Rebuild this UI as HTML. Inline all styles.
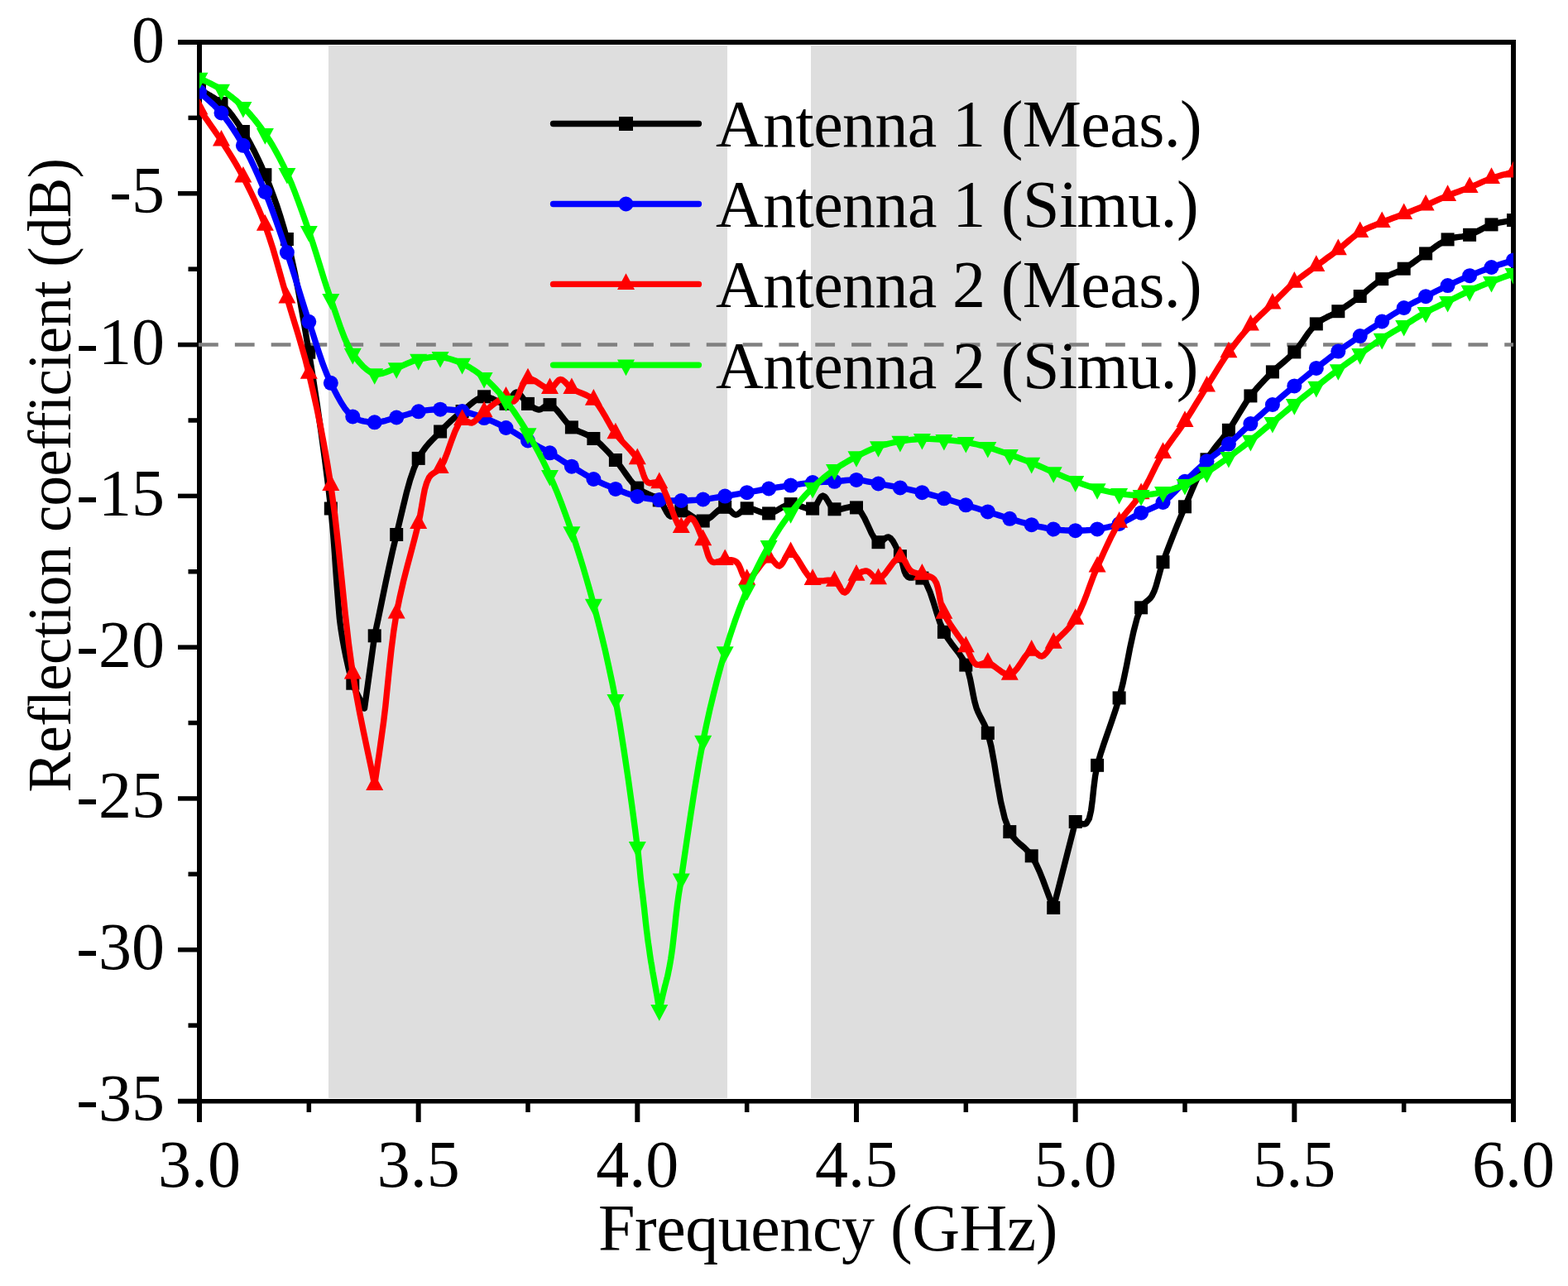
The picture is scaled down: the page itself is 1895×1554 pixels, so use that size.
<!DOCTYPE html><html><head><meta charset="utf-8"><style>html,body{margin:0;padding:0;background:#fff;overflow:hidden}svg{display:block}text{font-family:"Liberation Serif",serif}</style></head><body><svg width="1895" height="1554" viewBox="0 0 1895 1554">
<defs><clipPath id="pc"><rect x="241" y="51" width="1588" height="1279.5"/></clipPath></defs>
<rect x="0" y="0" width="1895" height="1554" fill="#fff"/>
<rect x="397" y="55" width="482" height="1272" fill="#dedede"/>
<rect x="980" y="55" width="321" height="1272" fill="#dedede"/>
<g fill="#000">
<rect x="215" y="48" width="1617" height="6"/>
<rect x="215" y="1328" width="1617" height="5.5"/>
<rect x="238" y="48" width="6" height="1308"/>
<rect x="1826" y="48" width="6" height="1308"/>
<rect x="215" y="48.25" width="26" height="5.5"/>
<rect x="215" y="231.04" width="26" height="5.5"/>
<rect x="215" y="413.82" width="26" height="5.5"/>
<rect x="215" y="596.61" width="26" height="5.5"/>
<rect x="215" y="779.39" width="26" height="5.5"/>
<rect x="215" y="962.18" width="26" height="5.5"/>
<rect x="215" y="1144.96" width="26" height="5.5"/>
<rect x="215" y="1327.75" width="26" height="5.5"/>
<rect x="227.5" y="139.64" width="13" height="5.5"/>
<rect x="227.5" y="322.43" width="13" height="5.5"/>
<rect x="227.5" y="505.21" width="13" height="5.5"/>
<rect x="227.5" y="688.00" width="13" height="5.5"/>
<rect x="227.5" y="870.79" width="13" height="5.5"/>
<rect x="227.5" y="1053.57" width="13" height="5.5"/>
<rect x="227.5" y="1236.36" width="13" height="5.5"/>
<rect x="238.00" y="1330" width="6" height="26"/>
<rect x="502.67" y="1330" width="6" height="26"/>
<rect x="767.33" y="1330" width="6" height="26"/>
<rect x="1032.00" y="1330" width="6" height="26"/>
<rect x="1296.67" y="1330" width="6" height="26"/>
<rect x="1561.33" y="1330" width="6" height="26"/>
<rect x="1826.00" y="1330" width="6" height="26"/>
<rect x="370.58" y="1330" width="5.5" height="14"/>
<rect x="635.25" y="1330" width="5.5" height="14"/>
<rect x="899.92" y="1330" width="5.5" height="14"/>
<rect x="1164.58" y="1330" width="5.5" height="14"/>
<rect x="1429.25" y="1330" width="5.5" height="14"/>
<rect x="1693.92" y="1330" width="5.5" height="14"/>
</g>
<g font-size="80" fill="#000">
<text x="199" y="74.5" text-anchor="end">0</text>
<text x="199" y="257.3" text-anchor="end">-5</text>
<text x="199" y="440.1" text-anchor="end">-10</text>
<text x="199" y="622.9" text-anchor="end">-15</text>
<text x="199" y="805.6" text-anchor="end">-20</text>
<text x="199" y="988.4" text-anchor="end">-25</text>
<text x="199" y="1171.2" text-anchor="end">-30</text>
<text x="199" y="1354.0" text-anchor="end">-35</text>
<text x="241.0" y="1434" text-anchor="middle">3.0</text>
<text x="505.7" y="1434" text-anchor="middle">3.5</text>
<text x="770.3" y="1434" text-anchor="middle">4.0</text>
<text x="1035.0" y="1434" text-anchor="middle">4.5</text>
<text x="1299.7" y="1434" text-anchor="middle">5.0</text>
<text x="1564.3" y="1434" text-anchor="middle">5.5</text>
<text x="1829.0" y="1434" text-anchor="middle">6.0</text>
<text x="723" y="1510.5" textLength="555.5" lengthAdjust="spacing">Frequency (GHz)</text>
</g>
<text transform="translate(85,957.5) rotate(-90)" font-size="73" textLength="766.5" lengthAdjust="spacing">Reflection coefficient (dB)</text>
<line x1="240" y1="416.57" x2="1829" y2="416.57" stroke="#808080" stroke-width="4.5" stroke-dasharray="23.8 20.04"/>
<g clip-path="url(#pc)">
<path d="M241.0,108.0 L245.5,110.7 L250.0,113.3 L254.5,115.8 L258.9,118.5 L263.3,121.5 L267.5,125.0 L272.2,129.7 L276.8,134.8 L281.2,140.4 L285.5,146.4 L289.8,152.6 L293.9,159.0 L298.7,166.8 L303.2,174.9 L307.7,183.5 L312.0,192.4 L316.3,201.6 L320.4,211.2 L325.2,222.9 L329.8,235.0 L334.3,247.5 L338.6,260.7 L342.8,274.5 L346.9,289.0 L351.8,309.2 L356.5,330.8 L360.9,353.4 L365.1,377.0 L369.2,401.1 L373.3,425.7 L378.2,456.0 L383.2,488.5 L388.0,521.8 L392.5,554.7 L396.5,586.0 L399.8,614.5 L401.7,633.6 L403.2,652.0 L404.5,669.5 L405.6,686.1 L406.7,701.5 L407.8,715.8 L408.5,724.5 L409.1,732.3 L409.7,739.6 L410.3,746.8 L411.2,754.1 L412.3,762.0 L414.0,772.3 L416.0,783.4 L418.3,794.8 L420.8,806.0 L423.4,816.4 L426.3,825.7 L428.4,831.5 L430.7,836.7 L433.2,841.7 L435.6,846.4 L438.1,851.1 L440.5,856.0 L452.7,768.3 L457.1,747.7 L461.4,726.9 L465.7,706.0 L470.1,685.4 L474.6,665.3 L479.2,646.0 L483.2,629.2 L487.2,612.3 L491.2,595.8 L495.5,580.2 L500.3,566.1 L505.7,553.9 L509.6,547.1 L513.9,541.2 L518.3,535.9 L522.9,531.0 L527.5,526.3 L532.1,521.5 L536.4,517.0 L540.8,512.7 L545.1,508.5 L549.6,504.5 L554.1,500.7 L558.6,497.0 L562.9,493.4 L567.2,489.7 L571.6,486.1 L576.0,483.0 L580.5,480.6 L585.1,479.3 L589.5,479.6 L594.2,481.4 L599.0,483.8 L603.6,486.1 L607.8,487.7 L611.5,487.8 L614.1,486.3 L616.3,483.6 L618.2,480.4 L620.1,477.3 L622.0,475.0 L624.0,474.0 L626.3,474.7 L628.5,476.7 L630.8,479.6 L633.2,482.7 L635.6,485.6 L638.0,487.9 L640.2,489.5 L642.4,491.1 L644.6,492.6 L646.8,493.8 L649.1,494.6 L651.3,495.0 L653.5,494.6 L655.6,493.3 L657.7,491.8 L659.9,490.3 L662.1,489.2 L664.5,489.1 L668.5,491.2 L672.7,495.3 L677.1,500.7 L681.6,506.5 L686.2,512.1 L690.9,516.4 L695.2,519.1 L699.6,521.3 L704.2,523.2 L708.7,525.2 L713.1,527.3 L717.4,530.0 L722.0,533.6 L726.5,537.6 L730.9,542.0 L735.3,546.5 L739.6,551.2 L743.9,556.0 L748.3,561.5 L752.6,567.4 L756.9,573.5 L761.2,579.5 L765.6,584.9 L770.3,589.6 L774.7,592.7 L779.3,595.2 L784.0,597.3 L788.7,599.4 L793.0,601.6 L796.8,604.4 L799.6,607.7 L802.0,611.7 L804.1,615.8 L806.2,619.6 L808.3,622.5 L810.7,624.0 L812.6,623.8 L814.6,622.7 L816.6,621.1 L818.7,619.3 L820.9,617.9 L823.3,617.3 L827.1,618.2 L831.4,620.5 L835.9,623.5 L840.6,626.5 L845.3,628.8 L849.7,629.5 L854.3,628.0 L859.0,624.9 L863.6,620.8 L868.1,616.9 L872.4,613.9 L876.2,612.8 L878.6,613.5 L880.8,615.2 L882.9,617.4 L884.9,619.5 L886.9,621.2 L889.0,622.0 L891.2,621.6 L893.3,620.3 L895.4,618.5 L897.7,616.7 L900.1,615.2 L902.7,614.3 L906.5,614.4 L910.8,615.6 L915.3,617.2 L920.0,618.9 L924.7,620.1 L929.1,620.4 L933.6,619.3 L938.0,617.3 L942.4,614.8 L946.7,612.3 L951.1,610.2 L955.6,609.1 L960.1,609.4 L964.8,610.7 L969.6,612.4 L974.2,614.1 L978.4,615.0 L982.1,614.6 L984.7,612.7 L986.9,609.7 L988.8,606.1 L990.6,602.6 L992.5,600.0 L994.5,599.0 L996.7,600.0 L998.7,602.6 L1000.9,606.1 L1003.1,609.9 L1005.6,613.2 L1008.5,615.3 L1012.4,615.9 L1016.7,615.2 L1021.4,613.9 L1026.2,612.8 L1030.8,612.4 L1035.0,613.4 L1040.1,618.2 L1044.8,626.1 L1049.2,635.5 L1053.3,644.5 L1057.4,651.7 L1061.5,655.2 L1063.6,655.1 L1065.8,653.9 L1067.9,652.1 L1070.0,650.4 L1072.0,649.2 L1074.0,649.0 L1076.6,650.7 L1079.1,653.9 L1081.5,658.2 L1083.8,663.0 L1085.9,667.8 L1087.9,672.2 L1089.6,676.5 L1090.8,681.3 L1091.9,686.1 L1093.1,690.5 L1094.8,694.3 L1097.0,697.0 L1099.4,698.0 L1102.2,698.0 L1105.3,697.6 L1108.5,697.2 L1111.6,697.3 L1114.4,698.6 L1119.4,704.9 L1123.8,714.9 L1128.0,727.2 L1132.0,740.4 L1136.2,753.0 L1140.9,763.8 L1145.2,771.1 L1149.9,777.7 L1154.7,783.9 L1159.4,790.1 L1163.7,796.6 L1167.3,803.6 L1170.3,811.8 L1172.5,820.6 L1174.3,829.8 L1176.0,838.8 L1177.8,847.4 L1180.0,855.3 L1182.1,860.7 L1184.4,865.3 L1186.7,869.8 L1189.1,874.4 L1191.5,879.6 L1193.8,885.8 L1197.9,902.0 L1201.7,922.8 L1205.4,945.9 L1209.5,968.8 L1214.4,989.3 L1220.3,1005.1 L1224.3,1011.4 L1228.7,1016.3 L1233.3,1020.4 L1238.0,1024.4 L1242.5,1028.8 L1246.7,1034.3 L1251.7,1043.1 L1256.3,1053.1 L1260.6,1063.9 L1264.7,1075.0 L1268.9,1086.1 L1273.2,1096.9 L1299.7,993.0 L1301.9,993.6 L1304.2,994.4 L1306.5,995.2 L1308.8,995.8 L1310.9,995.8 L1312.8,995.0 L1316.3,989.4 L1318.6,979.5 L1320.3,966.7 L1321.8,952.4 L1323.6,937.9 L1326.1,924.8 L1329.9,911.7 L1334.2,898.5 L1338.8,885.2 L1343.5,871.7 L1348.2,857.8 L1352.6,843.4 L1357.2,825.0 L1361.5,804.4 L1365.6,783.3 L1369.9,763.5 L1374.3,746.6 L1379.1,734.3 L1381.2,731.0 L1383.5,728.6 L1385.8,726.7 L1388.0,724.9 L1390.2,722.8 L1392.2,720.0 L1394.8,714.7 L1397.0,708.5 L1398.9,701.7 L1400.9,694.4 L1403.0,686.8 L1405.5,679.2 L1409.3,668.9 L1413.5,657.9 L1418.0,646.4 L1422.7,634.7 L1427.4,623.3 L1432.0,612.3 L1436.3,602.3 L1440.5,592.3 L1444.8,582.5 L1449.2,572.9 L1453.7,563.8 L1458.5,555.3 L1462.7,548.8 L1467.0,542.8 L1471.5,537.1 L1476.1,531.5 L1480.6,525.8 L1484.9,519.8 L1489.4,513.0 L1493.7,506.0 L1498.0,498.8 L1502.4,491.7 L1506.8,484.8 L1511.4,478.4 L1515.6,473.1 L1520.0,468.0 L1524.4,463.2 L1528.8,458.5 L1533.3,453.9 L1537.9,449.4 L1542.2,445.3 L1546.7,441.4 L1551.2,437.6 L1555.6,433.8 L1560.0,429.7 L1564.3,425.4 L1568.8,420.0 L1573.2,414.0 L1577.4,407.8 L1581.7,401.7 L1586.1,396.2 L1590.8,391.4 L1595.0,388.2 L1599.4,385.5 L1603.8,383.2 L1608.4,381.0 L1612.8,378.7 L1617.3,376.2 L1621.7,373.3 L1626.2,370.4 L1630.6,367.4 L1635.0,364.3 L1639.4,361.2 L1643.7,358.0 L1648.2,354.6 L1652.5,350.9 L1656.9,347.2 L1661.3,343.6 L1665.7,340.2 L1670.2,337.1 L1674.5,334.7 L1678.9,332.6 L1683.4,330.8 L1687.9,328.9 L1692.3,327.0 L1696.7,324.7 L1701.2,322.0 L1705.6,319.0 L1710.0,315.8 L1714.3,312.6 L1718.7,309.4 L1723.1,306.4 L1727.5,303.4 L1731.9,300.2 L1736.2,297.1 L1740.6,294.2 L1745.1,291.6 L1749.6,289.4 L1753.9,288.0 L1758.3,287.0 L1762.8,286.4 L1767.2,285.8 L1771.7,285.0 L1776.1,283.8 L1780.5,282.0 L1784.9,279.9 L1789.3,277.6 L1793.7,275.3 L1798.1,273.1 L1802.5,271.4 L1806.9,270.1 L1811.3,269.2 L1815.7,268.3 L1820.1,267.6 L1824.6,266.9 L1829.0,266.1" fill="none" stroke="#000000" stroke-width="7.4" stroke-linejoin="round" stroke-linecap="round"/>
<rect x="233.0" y="100.0" width="16" height="16" fill="#000000"/>
<rect x="259.5" y="117.0" width="16" height="16" fill="#000000"/>
<rect x="285.9" y="151.0" width="16" height="16" fill="#000000"/>
<rect x="312.4" y="203.2" width="16" height="16" fill="#000000"/>
<rect x="338.9" y="281.0" width="16" height="16" fill="#000000"/>
<rect x="365.3" y="417.7" width="16" height="16" fill="#000000"/>
<rect x="391.8" y="606.5" width="16" height="16" fill="#000000"/>
<rect x="418.3" y="817.7" width="16" height="16" fill="#000000"/>
<rect x="444.7" y="760.3" width="16" height="16" fill="#000000"/>
<rect x="471.2" y="638.0" width="16" height="16" fill="#000000"/>
<rect x="497.7" y="545.9" width="16" height="16" fill="#000000"/>
<rect x="524.1" y="513.5" width="16" height="16" fill="#000000"/>
<rect x="550.6" y="489.0" width="16" height="16" fill="#000000"/>
<rect x="577.1" y="471.3" width="16" height="16" fill="#000000"/>
<rect x="603.5" y="479.8" width="16" height="16" fill="#000000"/>
<rect x="630.0" y="479.9" width="16" height="16" fill="#000000"/>
<rect x="656.5" y="481.1" width="16" height="16" fill="#000000"/>
<rect x="682.9" y="508.4" width="16" height="16" fill="#000000"/>
<rect x="709.4" y="522.0" width="16" height="16" fill="#000000"/>
<rect x="735.9" y="548.0" width="16" height="16" fill="#000000"/>
<rect x="762.3" y="581.6" width="16" height="16" fill="#000000"/>
<rect x="788.8" y="596.4" width="16" height="16" fill="#000000"/>
<rect x="815.3" y="609.3" width="16" height="16" fill="#000000"/>
<rect x="841.7" y="621.5" width="16" height="16" fill="#000000"/>
<rect x="868.2" y="604.8" width="16" height="16" fill="#000000"/>
<rect x="894.7" y="606.3" width="16" height="16" fill="#000000"/>
<rect x="921.1" y="612.4" width="16" height="16" fill="#000000"/>
<rect x="947.6" y="601.1" width="16" height="16" fill="#000000"/>
<rect x="974.1" y="606.6" width="16" height="16" fill="#000000"/>
<rect x="1000.5" y="607.3" width="16" height="16" fill="#000000"/>
<rect x="1027.0" y="605.4" width="16" height="16" fill="#000000"/>
<rect x="1053.5" y="647.2" width="16" height="16" fill="#000000"/>
<rect x="1079.9" y="664.2" width="16" height="16" fill="#000000"/>
<rect x="1106.4" y="690.6" width="16" height="16" fill="#000000"/>
<rect x="1132.9" y="755.8" width="16" height="16" fill="#000000"/>
<rect x="1159.3" y="795.6" width="16" height="16" fill="#000000"/>
<rect x="1185.8" y="877.8" width="16" height="16" fill="#000000"/>
<rect x="1212.3" y="997.1" width="16" height="16" fill="#000000"/>
<rect x="1238.7" y="1026.3" width="16" height="16" fill="#000000"/>
<rect x="1265.2" y="1088.9" width="16" height="16" fill="#000000"/>
<rect x="1291.7" y="985.0" width="16" height="16" fill="#000000"/>
<rect x="1318.1" y="916.8" width="16" height="16" fill="#000000"/>
<rect x="1344.6" y="835.4" width="16" height="16" fill="#000000"/>
<rect x="1371.1" y="726.3" width="16" height="16" fill="#000000"/>
<rect x="1397.5" y="671.2" width="16" height="16" fill="#000000"/>
<rect x="1424.0" y="604.3" width="16" height="16" fill="#000000"/>
<rect x="1450.5" y="547.3" width="16" height="16" fill="#000000"/>
<rect x="1476.9" y="511.8" width="16" height="16" fill="#000000"/>
<rect x="1503.4" y="470.4" width="16" height="16" fill="#000000"/>
<rect x="1529.9" y="441.4" width="16" height="16" fill="#000000"/>
<rect x="1556.3" y="417.4" width="16" height="16" fill="#000000"/>
<rect x="1582.8" y="383.4" width="16" height="16" fill="#000000"/>
<rect x="1609.3" y="368.2" width="16" height="16" fill="#000000"/>
<rect x="1635.7" y="350.0" width="16" height="16" fill="#000000"/>
<rect x="1662.2" y="329.1" width="16" height="16" fill="#000000"/>
<rect x="1688.7" y="316.7" width="16" height="16" fill="#000000"/>
<rect x="1715.1" y="298.4" width="16" height="16" fill="#000000"/>
<rect x="1741.6" y="281.4" width="16" height="16" fill="#000000"/>
<rect x="1768.1" y="275.8" width="16" height="16" fill="#000000"/>
<rect x="1794.5" y="263.4" width="16" height="16" fill="#000000"/>
<rect x="1821.0" y="258.1" width="16" height="16" fill="#000000"/>
<path d="M241.0,111.0 L245.4,115.2 L249.9,119.2 L254.4,123.2 L258.9,127.4 L263.2,131.8 L267.5,136.5 L272.1,142.3 L276.7,148.4 L281.1,154.9 L285.5,161.6 L289.7,168.6 L293.9,175.8 L298.6,184.4 L303.2,193.3 L307.6,202.6 L311.9,212.2 L316.2,222.0 L320.4,232.0 L325.0,243.5 L329.5,255.4 L333.9,267.5 L338.3,279.9 L342.6,292.5 L346.9,305.1 L351.4,318.8 L355.8,332.7 L360.1,346.9 L364.5,361.1 L368.9,375.1 L373.3,388.8 L377.6,401.7 L381.8,414.8 L386.0,427.7 L390.3,440.2 L394.9,452.0 L399.8,462.8 L403.8,470.9 L407.9,478.8 L412.1,486.3 L416.5,493.1 L421.2,498.9 L426.3,503.4 L430.3,505.9 L434.7,507.7 L439.1,508.9 L443.7,509.7 L448.2,510.1 L452.7,510.3 L457.1,510.1 L461.6,509.4 L466.0,508.3 L470.4,507.0 L474.8,505.7 L479.2,504.5 L483.6,503.3 L488.0,502.0 L492.4,500.7 L496.8,499.4 L501.2,498.2 L505.7,497.3 L510.1,496.6 L514.5,495.9 L518.9,495.4 L523.3,495.0 L527.7,494.8 L532.1,494.7 L536.5,494.7 L541.0,494.9 L545.4,495.2 L549.8,495.6 L554.2,496.2 L558.6,497.0 L563.1,498.0 L567.5,499.1 L571.9,500.5 L576.3,501.9 L580.7,503.5 L585.1,505.1 L589.5,506.8 L594.0,508.7 L598.4,510.6 L602.8,512.7 L607.2,514.8 L611.5,517.0 L616.0,519.4 L620.4,521.9 L624.8,524.6 L629.2,527.3 L633.6,529.9 L638.0,532.5 L642.4,535.0 L646.8,537.4 L651.2,539.9 L655.7,542.3 L660.1,544.8 L664.5,547.3 L668.9,550.0 L673.3,552.7 L677.7,555.5 L682.1,558.3 L686.5,561.0 L690.9,563.7 L695.3,566.3 L699.7,569.0 L704.1,571.6 L708.5,574.2 L712.9,576.6 L717.4,579.0 L721.8,581.2 L726.2,583.3 L730.6,585.3 L735.0,587.2 L739.4,589.1 L743.9,590.9 L748.2,592.6 L752.6,594.3 L757.0,595.9 L761.5,597.4 L765.9,598.7 L770.3,599.9 L774.7,600.9 L779.1,601.8 L783.5,602.5 L787.9,603.1 L792.4,603.6 L796.8,604.1 L801.2,604.5 L805.6,604.7 L810.0,604.9 L814.4,605.0 L818.9,605.0 L823.3,605.0 L827.7,604.9 L832.1,604.8 L836.5,604.5 L840.9,604.3 L845.3,603.9 L849.7,603.5 L854.2,603.0 L858.6,602.4 L863.0,601.7 L867.4,601.0 L871.8,600.3 L876.2,599.6 L880.6,598.9 L885.0,598.2 L889.4,597.4 L893.8,596.7 L898.3,596.0 L902.7,595.2 L907.1,594.4 L911.5,593.6 L915.9,592.8 L920.3,592.0 L924.7,591.2 L929.1,590.5 L933.5,589.8 L937.9,589.1 L942.4,588.5 L946.8,587.8 L951.2,587.2 L955.6,586.6 L960.0,586.0 L964.4,585.3 L968.8,584.7 L973.2,584.1 L977.6,583.6 L982.1,583.1 L986.5,582.8 L990.9,582.5 L995.3,582.4 L999.7,582.2 L1004.1,582.0 L1008.5,581.8 L1012.9,581.4 L1017.4,581.0 L1021.8,580.5 L1026.2,580.1 L1030.6,579.9 L1035.0,579.9 L1039.4,580.3 L1043.8,580.9 L1048.2,581.8 L1052.7,582.7 L1057.1,583.6 L1061.5,584.5 L1065.9,585.3 L1070.3,586.1 L1074.7,586.9 L1079.1,587.7 L1083.5,588.5 L1087.9,589.4 L1092.4,590.3 L1096.8,591.2 L1101.2,592.2 L1105.6,593.1 L1110.0,594.2 L1114.4,595.2 L1118.8,596.3 L1123.2,597.4 L1127.7,598.6 L1132.1,599.8 L1136.5,601.1 L1140.9,602.3 L1145.3,603.6 L1149.7,604.9 L1154.1,606.2 L1158.5,607.6 L1162.9,609.0 L1167.3,610.3 L1171.7,611.6 L1176.2,613.0 L1180.6,614.3 L1185.0,615.7 L1189.4,617.0 L1193.8,618.4 L1198.2,619.8 L1202.6,621.2 L1207.0,622.6 L1211.4,624.1 L1215.8,625.5 L1220.3,626.8 L1224.7,628.1 L1229.1,629.4 L1233.5,630.7 L1237.9,631.9 L1242.3,633.1 L1246.7,634.2 L1251.1,635.2 L1255.5,636.3 L1259.9,637.2 L1264.4,638.1 L1268.8,638.8 L1273.2,639.5 L1277.6,640.0 L1282.0,640.5 L1286.4,640.8 L1290.8,641.0 L1295.3,641.2 L1299.7,641.2 L1304.1,641.2 L1308.5,641.0 L1312.9,640.8 L1317.3,640.5 L1321.7,640.0 L1326.1,639.4 L1330.6,638.7 L1335.0,637.8 L1339.5,636.9 L1343.9,635.8 L1348.3,634.5 L1352.6,633.0 L1357.1,631.2 L1361.5,629.0 L1365.9,626.7 L1370.3,624.3 L1374.7,622.0 L1379.1,619.7 L1383.5,617.7 L1388.0,615.8 L1392.5,613.9 L1396.9,611.9 L1401.3,609.7 L1405.5,607.0 L1410.1,603.5 L1414.6,599.4 L1419.0,595.1 L1423.3,590.6 L1427.6,586.1 L1432.0,581.8 L1436.4,577.6 L1440.8,573.5 L1445.2,569.3 L1449.6,565.2 L1454.0,561.2 L1458.5,557.3 L1462.8,553.7 L1467.3,550.3 L1471.7,547.0 L1476.1,543.6 L1480.6,540.2 L1484.9,536.6 L1489.4,532.7 L1493.8,528.6 L1498.2,524.5 L1502.6,520.3 L1507.0,516.2 L1511.4,512.1 L1515.8,508.2 L1520.2,504.3 L1524.6,500.5 L1529.0,496.6 L1533.4,492.8 L1537.9,489.0 L1542.3,485.2 L1546.7,481.4 L1551.1,477.6 L1555.5,473.9 L1559.9,470.1 L1564.3,466.4 L1568.7,462.8 L1573.1,459.1 L1577.5,455.5 L1581.9,452.0 L1586.4,448.4 L1590.8,444.9 L1595.2,441.4 L1599.6,438.0 L1604.0,434.6 L1608.4,431.2 L1612.8,427.9 L1617.3,424.6 L1621.7,421.4 L1626.0,418.3 L1630.5,415.2 L1634.9,412.2 L1639.3,409.1 L1643.7,406.1 L1648.1,403.1 L1652.5,400.1 L1656.9,397.2 L1661.4,394.3 L1665.8,391.4 L1670.2,388.5 L1674.6,385.7 L1679.0,382.8 L1683.4,380.0 L1687.8,377.3 L1692.2,374.6 L1696.7,372.0 L1701.0,369.6 L1705.4,367.2 L1709.9,364.9 L1714.3,362.7 L1718.7,360.4 L1723.1,358.2 L1727.5,356.0 L1731.9,353.7 L1736.3,351.5 L1740.8,349.4 L1745.2,347.2 L1749.6,345.1 L1754.0,343.0 L1758.4,341.0 L1762.8,339.0 L1767.2,337.0 L1771.6,335.1 L1776.1,333.2 L1780.5,331.4 L1784.9,329.6 L1789.3,327.9 L1793.7,326.2 L1798.1,324.6 L1802.5,323.0 L1806.9,321.5 L1811.3,320.0 L1815.8,318.6 L1820.2,317.2 L1824.6,315.8 L1829.0,314.4" fill="none" stroke="#0000ff" stroke-width="7.4" stroke-linejoin="round" stroke-linecap="round"/>
<circle cx="241.0" cy="111.0" r="9" fill="#0000ff"/>
<circle cx="267.5" cy="136.5" r="9" fill="#0000ff"/>
<circle cx="293.9" cy="175.8" r="9" fill="#0000ff"/>
<circle cx="320.4" cy="232.0" r="9" fill="#0000ff"/>
<circle cx="346.9" cy="305.1" r="9" fill="#0000ff"/>
<circle cx="373.3" cy="388.8" r="9" fill="#0000ff"/>
<circle cx="399.8" cy="462.8" r="9" fill="#0000ff"/>
<circle cx="426.3" cy="503.4" r="9" fill="#0000ff"/>
<circle cx="452.7" cy="510.3" r="9" fill="#0000ff"/>
<circle cx="479.2" cy="504.5" r="9" fill="#0000ff"/>
<circle cx="505.7" cy="497.3" r="9" fill="#0000ff"/>
<circle cx="532.1" cy="494.7" r="9" fill="#0000ff"/>
<circle cx="558.6" cy="497.0" r="9" fill="#0000ff"/>
<circle cx="585.1" cy="505.1" r="9" fill="#0000ff"/>
<circle cx="611.5" cy="517.0" r="9" fill="#0000ff"/>
<circle cx="638.0" cy="532.5" r="9" fill="#0000ff"/>
<circle cx="664.5" cy="547.3" r="9" fill="#0000ff"/>
<circle cx="690.9" cy="563.7" r="9" fill="#0000ff"/>
<circle cx="717.4" cy="579.0" r="9" fill="#0000ff"/>
<circle cx="743.9" cy="590.9" r="9" fill="#0000ff"/>
<circle cx="770.3" cy="599.9" r="9" fill="#0000ff"/>
<circle cx="796.8" cy="604.1" r="9" fill="#0000ff"/>
<circle cx="823.3" cy="605.0" r="9" fill="#0000ff"/>
<circle cx="849.7" cy="603.5" r="9" fill="#0000ff"/>
<circle cx="876.2" cy="599.6" r="9" fill="#0000ff"/>
<circle cx="902.7" cy="595.2" r="9" fill="#0000ff"/>
<circle cx="929.1" cy="590.5" r="9" fill="#0000ff"/>
<circle cx="955.6" cy="586.6" r="9" fill="#0000ff"/>
<circle cx="982.1" cy="583.1" r="9" fill="#0000ff"/>
<circle cx="1008.5" cy="581.8" r="9" fill="#0000ff"/>
<circle cx="1035.0" cy="579.9" r="9" fill="#0000ff"/>
<circle cx="1061.5" cy="584.5" r="9" fill="#0000ff"/>
<circle cx="1087.9" cy="589.4" r="9" fill="#0000ff"/>
<circle cx="1114.4" cy="595.2" r="9" fill="#0000ff"/>
<circle cx="1140.9" cy="602.3" r="9" fill="#0000ff"/>
<circle cx="1167.3" cy="610.3" r="9" fill="#0000ff"/>
<circle cx="1193.8" cy="618.4" r="9" fill="#0000ff"/>
<circle cx="1220.3" cy="626.8" r="9" fill="#0000ff"/>
<circle cx="1246.7" cy="634.2" r="9" fill="#0000ff"/>
<circle cx="1273.2" cy="639.5" r="9" fill="#0000ff"/>
<circle cx="1299.7" cy="641.2" r="9" fill="#0000ff"/>
<circle cx="1326.1" cy="639.4" r="9" fill="#0000ff"/>
<circle cx="1352.6" cy="633.0" r="9" fill="#0000ff"/>
<circle cx="1379.1" cy="619.7" r="9" fill="#0000ff"/>
<circle cx="1405.5" cy="607.0" r="9" fill="#0000ff"/>
<circle cx="1432.0" cy="581.8" r="9" fill="#0000ff"/>
<circle cx="1458.5" cy="557.3" r="9" fill="#0000ff"/>
<circle cx="1484.9" cy="536.6" r="9" fill="#0000ff"/>
<circle cx="1511.4" cy="512.1" r="9" fill="#0000ff"/>
<circle cx="1537.9" cy="489.0" r="9" fill="#0000ff"/>
<circle cx="1564.3" cy="466.4" r="9" fill="#0000ff"/>
<circle cx="1590.8" cy="444.9" r="9" fill="#0000ff"/>
<circle cx="1617.3" cy="424.6" r="9" fill="#0000ff"/>
<circle cx="1643.7" cy="406.1" r="9" fill="#0000ff"/>
<circle cx="1670.2" cy="388.5" r="9" fill="#0000ff"/>
<circle cx="1696.7" cy="372.0" r="9" fill="#0000ff"/>
<circle cx="1723.1" cy="358.2" r="9" fill="#0000ff"/>
<circle cx="1749.6" cy="345.1" r="9" fill="#0000ff"/>
<circle cx="1776.1" cy="333.2" r="9" fill="#0000ff"/>
<circle cx="1802.5" cy="323.0" r="9" fill="#0000ff"/>
<circle cx="1829.0" cy="314.4" r="9" fill="#0000ff"/>
<path d="M241.0,132.0 L245.4,138.3 L249.9,144.5 L254.3,150.8 L258.7,157.1 L263.1,163.5 L267.5,170.0 L272.0,177.0 L276.5,184.1 L281.0,191.3 L285.4,198.6 L289.7,206.2 L293.9,214.0 L298.6,223.0 L303.1,232.2 L307.6,241.6 L312.0,251.4 L316.3,261.6 L320.4,272.2 L325.1,285.7 L329.7,299.9 L334.0,314.8 L338.3,329.9 L342.5,345.0 L346.9,360.0 L351.4,374.9 L355.9,389.6 L360.4,404.3 L364.8,419.4 L369.2,435.0 L373.3,451.3 L378.1,471.8 L382.8,493.0 L387.3,514.9 L391.6,537.7 L395.8,561.5 L399.8,586.4 L404.6,621.5 L408.9,660.0 L413.0,700.2 L417.1,740.3 L421.5,778.8 L426.3,813.9 L430.4,838.4 L434.7,861.4 L439.2,883.4 L443.7,904.9 L448.3,926.4 L452.7,948.4 L454.5,936.1 L456.3,924.0 L458.1,912.0 L459.8,899.7 L461.6,886.8 L463.5,873.0 L465.9,853.0 L468.1,831.2 L470.4,808.4 L472.9,785.3 L475.8,762.6 L479.2,741.0 L483.1,721.8 L487.5,702.6 L492.3,683.8 L497.2,665.6 L501.7,648.4 L505.7,632.5 L507.9,621.7 L509.8,611.0 L511.5,600.8 L513.3,591.5 L515.6,583.5 L518.5,577.0 L520.5,574.4 L522.7,572.6 L525.0,571.2 L527.4,569.7 L529.8,567.9 L532.1,565.4 L536.5,557.4 L540.9,546.1 L545.3,533.6 L549.8,521.6 L554.2,512.3 L558.6,507.4 L560.5,507.1 L562.4,507.8 L564.3,508.9 L566.2,510.0 L568.1,510.9 L570.0,511.0 L572.4,510.0 L574.8,508.1 L577.2,505.7 L579.6,503.0 L582.2,500.3 L585.1,497.8 L589.1,494.5 L593.7,490.7 L598.6,486.9 L603.4,483.5 L607.8,481.0 L611.5,480.0 L613.4,480.4 L615.0,481.4 L616.5,482.7 L618.0,484.0 L619.5,484.9 L621.0,485.0 L623.7,482.6 L626.2,477.8 L628.8,471.7 L631.5,465.5 L634.5,460.5 L638.0,457.8 L642.0,458.0 L646.5,460.1 L651.3,463.3 L656.1,466.5 L660.6,468.9 L664.5,469.6 L667.0,468.5 L669.3,466.4 L671.4,463.8 L673.4,461.2 L675.4,459.3 L677.5,458.5 L679.7,459.1 L681.7,460.6 L683.8,462.7 L686.0,465.1 L688.3,467.5 L690.9,469.6 L694.8,471.7 L699.2,473.6 L703.9,475.5 L708.6,477.5 L713.2,480.0 L717.4,483.2 L722.3,488.5 L726.7,495.1 L731.0,502.3 L735.2,509.8 L739.4,517.1 L743.9,523.8 L748.3,529.3 L753.0,534.5 L757.8,539.5 L762.4,544.5 L766.6,549.5 L770.3,554.7 L772.9,559.7 L774.9,565.3 L776.7,570.8 L778.4,575.9 L780.4,580.2 L783.0,583.0 L785.1,583.8 L787.3,583.7 L789.7,583.2 L792.1,582.8 L794.5,582.8 L796.8,583.7 L801.5,589.7 L806.0,600.1 L810.6,612.4 L815.0,624.3 L819.2,633.5 L823.3,637.5 L825.3,636.9 L827.3,634.7 L829.3,631.8 L831.2,628.9 L833.1,626.7 L835.0,626.0 L837.6,627.6 L840.1,631.3 L842.7,636.3 L845.1,642.0 L847.5,647.7 L849.7,652.7 L851.6,657.5 L853.2,662.7 L854.8,668.0 L856.4,672.7 L858.3,676.6 L860.8,679.0 L863.0,679.6 L865.5,679.4 L868.2,678.6 L870.9,677.6 L873.6,676.8 L876.2,676.5 L878.6,676.5 L881.0,676.6 L883.4,676.7 L885.7,677.1 L887.9,677.9 L890.0,679.0 L892.4,681.8 L894.4,686.0 L896.2,690.8 L898.1,695.4 L900.2,698.8 L902.7,700.4 L906.5,698.8 L910.9,694.0 L915.7,687.7 L920.5,681.2 L925.1,676.2 L929.1,674.0 L931.5,674.7 L933.7,676.6 L935.7,679.1 L937.8,681.5 L939.8,683.4 L941.8,684.0 L944.1,682.6 L946.3,679.5 L948.5,675.5 L950.7,671.6 L953.1,668.7 L955.6,667.5 L959.4,669.6 L963.5,674.9 L967.8,682.0 L972.4,689.5 L977.1,696.1 L982.1,700.4 L986.3,701.8 L991.0,702.0 L995.8,701.7 L1000.5,701.3 L1004.8,701.3 L1008.5,702.3 L1011.1,704.3 L1013.4,707.1 L1015.3,710.3 L1017.2,713.2 L1019.0,715.3 L1021.0,716.0 L1023.3,714.6 L1025.6,711.4 L1027.8,707.1 L1030.1,702.4 L1032.5,698.2 L1035.0,695.2 L1036.9,693.7 L1039.0,692.4 L1041.0,691.3 L1043.1,690.5 L1045.2,690.0 L1047.3,690.0 L1049.6,690.9 L1051.9,692.8 L1054.2,695.2 L1056.5,697.5 L1058.9,699.2 L1061.5,699.7 L1065.6,697.4 L1070.2,692.4 L1074.9,686.0 L1079.6,679.6 L1084.0,674.9 L1087.9,673.1 L1090.4,674.2 L1092.6,676.9 L1094.6,680.4 L1096.6,684.1 L1098.7,687.6 L1101.0,690.0 L1103.1,691.2 L1105.3,692.0 L1107.5,692.6 L1109.8,693.0 L1112.1,693.5 L1114.4,694.2 L1116.9,694.9 L1119.4,695.5 L1122.0,696.1 L1124.5,696.9 L1126.9,698.2 L1129.0,700.0 L1131.7,704.6 L1133.6,710.9 L1135.1,718.3 L1136.5,726.2 L1138.3,734.0 L1140.9,741.2 L1144.6,748.3 L1149.0,755.4 L1153.8,762.4 L1158.7,769.3 L1163.3,775.7 L1167.3,781.7 L1169.7,785.9 L1171.7,790.3 L1173.6,794.5 L1175.5,798.2 L1177.6,801.1 L1180.0,803.0 L1182.0,803.4 L1184.2,803.1 L1186.5,802.4 L1188.8,801.5 L1191.3,801.0 L1193.8,801.0 L1197.8,802.6 L1202.2,805.6 L1206.8,809.1 L1211.4,812.4 L1215.9,814.7 L1220.3,815.2 L1225.0,812.6 L1229.7,807.2 L1234.2,800.6 L1238.6,793.9 L1242.8,788.7 L1246.7,786.2 L1248.9,786.5 L1251.0,787.8 L1253.1,789.6 L1255.1,791.4 L1257.0,792.7 L1259.0,793.0 L1261.4,792.0 L1263.6,789.9 L1265.9,787.1 L1268.2,783.8 L1270.6,780.4 L1273.2,777.2 L1277.2,773.1 L1281.6,768.8 L1286.3,764.3 L1291.0,759.5 L1295.5,754.2 L1299.7,748.3 L1304.6,739.3 L1309.1,729.1 L1313.4,718.1 L1317.5,706.7 L1321.7,695.5 L1326.1,685.0 L1330.4,675.6 L1334.6,666.2 L1339.0,656.9 L1343.3,647.9 L1347.9,639.3 L1352.6,631.2 L1356.8,624.9 L1361.3,619.2 L1365.8,613.8 L1370.3,608.4 L1374.8,602.8 L1379.1,596.7 L1383.7,589.0 L1388.1,580.8 L1392.4,572.2 L1396.6,563.6 L1401.0,555.3 L1405.5,547.4 L1409.8,540.7 L1414.2,534.4 L1418.7,528.2 L1423.2,522.0 L1427.6,515.8 L1432.0,509.4 L1436.5,502.5 L1440.9,495.5 L1445.3,488.3 L1449.7,481.2 L1454.1,474.1 L1458.5,467.0 L1462.8,460.0 L1467.2,453.0 L1471.5,446.0 L1475.9,439.1 L1480.4,432.3 L1484.9,425.8 L1489.2,420.0 L1493.6,414.3 L1497.9,408.7 L1502.4,403.4 L1506.9,398.1 L1511.4,393.0 L1515.7,388.4 L1520.1,384.0 L1524.5,379.7 L1529.0,375.5 L1533.4,371.3 L1537.9,367.0 L1542.3,362.6 L1546.6,358.2 L1551.0,353.8 L1555.4,349.4 L1559.8,345.2 L1564.3,341.2 L1568.7,337.6 L1573.1,334.3 L1577.5,331.0 L1581.9,327.8 L1586.4,324.6 L1590.8,321.4 L1595.2,318.1 L1599.6,314.9 L1604.1,311.6 L1608.5,308.4 L1612.9,305.1 L1617.3,301.7 L1621.7,298.1 L1626.0,294.4 L1630.4,290.6 L1634.8,287.0 L1639.2,283.5 L1643.7,280.5 L1648.0,278.1 L1652.4,275.9 L1656.8,274.0 L1661.3,272.2 L1665.7,270.4 L1670.2,268.6 L1674.6,266.8 L1679.0,265.2 L1683.4,263.5 L1687.8,261.9 L1692.3,260.3 L1696.7,258.6 L1701.1,256.9 L1705.5,255.2 L1709.9,253.4 L1714.3,251.7 L1718.7,249.9 L1723.1,248.1 L1727.6,246.2 L1732.0,244.2 L1736.4,242.2 L1740.8,240.2 L1745.2,238.3 L1749.6,236.4 L1754.0,234.7 L1758.4,233.0 L1762.8,231.4 L1767.2,229.8 L1771.7,228.2 L1776.1,226.5 L1780.5,224.7 L1784.9,222.8 L1789.3,220.8 L1793.7,218.9 L1798.1,217.1 L1802.5,215.4 L1806.9,214.0 L1811.3,212.7 L1815.7,211.4 L1820.2,210.3 L1824.6,209.1 L1829.0,207.9" fill="none" stroke="#ff0000" stroke-width="7.4" stroke-linejoin="round" stroke-linecap="round"/>
<polygon points="241.0,118.9 251.5,138.5 230.5,138.5" fill="#ff0000"/>
<polygon points="267.5,156.9 278.0,176.5 257.0,176.5" fill="#ff0000"/>
<polygon points="293.9,200.9 304.4,220.5 283.4,220.5" fill="#ff0000"/>
<polygon points="320.4,259.1 330.9,278.7 309.9,278.7" fill="#ff0000"/>
<polygon points="346.9,346.9 357.4,366.5 336.4,366.5" fill="#ff0000"/>
<polygon points="373.3,438.2 383.8,457.8 362.8,457.8" fill="#ff0000"/>
<polygon points="399.8,573.3 410.3,592.9 389.3,592.9" fill="#ff0000"/>
<polygon points="426.3,800.8 436.8,820.4 415.8,820.4" fill="#ff0000"/>
<polygon points="452.7,935.3 463.2,954.9 442.2,954.9" fill="#ff0000"/>
<polygon points="479.2,727.9 489.7,747.5 468.7,747.5" fill="#ff0000"/>
<polygon points="505.7,619.4 516.2,639.0 495.2,639.0" fill="#ff0000"/>
<polygon points="532.1,552.3 542.6,571.9 521.6,571.9" fill="#ff0000"/>
<polygon points="558.6,494.3 569.1,513.9 548.1,513.9" fill="#ff0000"/>
<polygon points="585.1,484.7 595.6,504.3 574.6,504.3" fill="#ff0000"/>
<polygon points="611.5,466.9 622.0,486.5 601.0,486.5" fill="#ff0000"/>
<polygon points="638.0,444.7 648.5,464.3 627.5,464.3" fill="#ff0000"/>
<polygon points="664.5,456.5 675.0,476.1 654.0,476.1" fill="#ff0000"/>
<polygon points="690.9,456.5 701.4,476.1 680.4,476.1" fill="#ff0000"/>
<polygon points="717.4,470.1 727.9,489.7 706.9,489.7" fill="#ff0000"/>
<polygon points="743.9,510.7 754.4,530.3 733.4,530.3" fill="#ff0000"/>
<polygon points="770.3,541.6 780.8,561.2 759.8,561.2" fill="#ff0000"/>
<polygon points="796.8,570.6 807.3,590.2 786.3,590.2" fill="#ff0000"/>
<polygon points="823.3,624.4 833.8,644.0 812.8,644.0" fill="#ff0000"/>
<polygon points="849.7,639.6 860.2,659.2 839.2,659.2" fill="#ff0000"/>
<polygon points="876.2,663.4 886.7,683.0 865.7,683.0" fill="#ff0000"/>
<polygon points="902.7,687.3 913.2,706.9 892.2,706.9" fill="#ff0000"/>
<polygon points="929.1,660.9 939.6,680.5 918.6,680.5" fill="#ff0000"/>
<polygon points="955.6,654.4 966.1,674.0 945.1,674.0" fill="#ff0000"/>
<polygon points="982.1,687.3 992.6,706.9 971.6,706.9" fill="#ff0000"/>
<polygon points="1008.5,689.2 1019.0,708.8 998.0,708.8" fill="#ff0000"/>
<polygon points="1035.0,682.1 1045.5,701.7 1024.5,701.7" fill="#ff0000"/>
<polygon points="1061.5,686.6 1072.0,706.2 1051.0,706.2" fill="#ff0000"/>
<polygon points="1087.9,660.0 1098.4,679.6 1077.4,679.6" fill="#ff0000"/>
<polygon points="1114.4,681.1 1124.9,700.7 1103.9,700.7" fill="#ff0000"/>
<polygon points="1140.9,728.1 1151.4,747.7 1130.4,747.7" fill="#ff0000"/>
<polygon points="1167.3,768.6 1177.8,788.2 1156.8,788.2" fill="#ff0000"/>
<polygon points="1193.8,787.9 1204.3,807.5 1183.3,807.5" fill="#ff0000"/>
<polygon points="1220.3,802.1 1230.8,821.7 1209.8,821.7" fill="#ff0000"/>
<polygon points="1246.7,773.1 1257.2,792.7 1236.2,792.7" fill="#ff0000"/>
<polygon points="1273.2,764.1 1283.7,783.7 1262.7,783.7" fill="#ff0000"/>
<polygon points="1299.7,735.2 1310.2,754.8 1289.2,754.8" fill="#ff0000"/>
<polygon points="1326.1,671.9 1336.6,691.5 1315.6,691.5" fill="#ff0000"/>
<polygon points="1352.6,618.1 1363.1,637.7 1342.1,637.7" fill="#ff0000"/>
<polygon points="1379.1,583.6 1389.6,603.2 1368.6,603.2" fill="#ff0000"/>
<polygon points="1405.5,534.3 1416.0,553.9 1395.0,553.9" fill="#ff0000"/>
<polygon points="1432.0,496.3 1442.5,515.9 1421.5,515.9" fill="#ff0000"/>
<polygon points="1458.5,453.9 1469.0,473.5 1448.0,473.5" fill="#ff0000"/>
<polygon points="1484.9,412.7 1495.4,432.3 1474.4,432.3" fill="#ff0000"/>
<polygon points="1511.4,379.9 1521.9,399.5 1500.9,399.5" fill="#ff0000"/>
<polygon points="1537.9,353.9 1548.4,373.5 1527.4,373.5" fill="#ff0000"/>
<polygon points="1564.3,328.1 1574.8,347.7 1553.8,347.7" fill="#ff0000"/>
<polygon points="1590.8,308.3 1601.3,327.9 1580.3,327.9" fill="#ff0000"/>
<polygon points="1617.3,288.6 1627.8,308.2 1606.8,308.2" fill="#ff0000"/>
<polygon points="1643.7,267.4 1654.2,287.0 1633.2,287.0" fill="#ff0000"/>
<polygon points="1670.2,255.5 1680.7,275.1 1659.7,275.1" fill="#ff0000"/>
<polygon points="1696.7,245.5 1707.2,265.1 1686.2,265.1" fill="#ff0000"/>
<polygon points="1723.1,235.0 1733.6,254.6 1712.6,254.6" fill="#ff0000"/>
<polygon points="1749.6,223.3 1760.1,242.9 1739.1,242.9" fill="#ff0000"/>
<polygon points="1776.1,213.4 1786.6,233.0 1765.6,233.0" fill="#ff0000"/>
<polygon points="1802.5,202.3 1813.0,221.9 1792.0,221.9" fill="#ff0000"/>
<polygon points="1829.0,194.8 1839.5,214.4 1818.5,214.4" fill="#ff0000"/>
<path d="M241.0,94.3 L245.4,96.6 L249.9,98.8 L254.3,100.9 L258.8,103.2 L263.1,105.6 L267.5,108.3 L272.0,111.4 L276.5,114.6 L281.0,118.0 L285.4,121.6 L289.7,125.4 L293.9,129.4 L298.6,134.1 L303.1,139.1 L307.6,144.4 L311.9,149.9 L316.2,155.6 L320.4,161.6 L325.1,168.8 L329.7,176.3 L334.1,184.1 L338.5,192.3 L342.7,200.7 L346.9,209.5 L351.6,220.2 L356.1,231.5 L360.5,243.2 L364.8,255.1 L369.1,267.3 L373.3,279.5 L377.8,292.9 L382.2,306.7 L386.5,320.7 L390.8,334.6 L395.2,348.3 L399.8,361.5 L403.9,373.4 L408.0,385.4 L412.1,397.2 L416.4,408.4 L421.1,418.6 L426.3,427.3 L430.3,432.8 L434.5,438.1 L438.8,442.8 L443.4,446.8 L448.0,449.9 L452.7,451.7 L457.0,452.1 L461.3,451.4 L465.8,450.0 L470.3,448.2 L474.8,446.4 L479.2,444.7 L483.6,443.1 L488.0,441.2 L492.4,439.2 L496.8,437.3 L501.2,435.6 L505.7,434.3 L510.0,433.3 L514.4,432.5 L518.9,431.8 L523.3,431.4 L527.7,431.3 L532.1,431.5 L536.6,432.1 L541.1,433.0 L545.5,434.2 L549.9,435.7 L554.3,437.4 L558.6,439.3 L563.1,441.5 L567.7,444.0 L572.1,446.8 L576.5,449.8 L580.8,453.0 L585.1,456.4 L589.7,460.4 L594.2,464.8 L598.6,469.4 L603.0,474.2 L607.3,479.2 L611.5,484.4 L616.1,490.4 L620.7,496.6 L625.1,503.2 L629.5,509.9 L633.8,516.8 L638.0,523.8 L642.6,531.7 L647.1,539.8 L651.6,548.0 L656.0,556.6 L660.3,565.4 L664.5,574.4 L669.1,585.0 L673.7,595.9 L678.1,607.2 L682.4,618.8 L686.7,630.6 L690.9,642.7 L695.6,656.5 L700.1,670.5 L704.6,685.0 L708.9,699.7 L713.2,714.8 L717.4,730.3 L722.1,748.2 L726.7,766.5 L731.2,785.2 L735.5,804.6 L739.8,824.6 L743.9,845.5 L749.0,874.4 L754.1,906.8 L759.1,940.2 L763.6,972.4 L767.4,1001.0 L770.3,1023.6 L771.3,1031.6 L772.0,1038.5 L772.6,1044.7 L773.2,1050.4 L773.7,1056.0 L774.3,1061.8 L774.9,1067.1 L775.5,1072.3 L776.2,1077.5 L776.8,1082.5 L777.4,1087.6 L778.0,1092.7 L778.6,1097.8 L779.1,1103.0 L779.7,1108.1 L780.2,1113.2 L780.8,1118.4 L781.4,1123.5 L782.1,1128.7 L782.7,1134.0 L783.4,1139.2 L784.2,1144.4 L784.9,1149.5 L785.6,1154.4 L786.2,1158.5 L786.8,1162.4 L787.5,1166.2 L788.1,1170.0 L788.7,1173.8 L789.4,1177.6 L790.1,1181.5 L790.8,1185.4 L791.5,1189.3 L792.2,1193.2 L792.9,1197.0 L793.6,1200.8 L794.2,1204.2 L794.7,1207.5 L795.2,1210.8 L795.8,1214.1 L796.3,1217.3 L796.8,1220.6 L797.9,1215.9 L799.0,1211.1 L800.1,1206.3 L801.2,1201.6 L802.3,1197.1 L803.3,1193.0 L804.0,1190.2 L804.7,1187.7 L805.3,1185.2 L806.0,1182.8 L806.6,1180.3 L807.2,1177.6 L807.9,1174.1 L808.7,1170.4 L809.4,1166.5 L810.1,1162.6 L810.8,1158.5 L811.4,1154.4 L812.1,1149.5 L812.8,1144.4 L813.4,1139.2 L814.0,1134.0 L814.6,1128.7 L815.2,1123.5 L815.8,1118.4 L816.3,1113.2 L816.8,1108.1 L817.4,1103.0 L818.0,1097.8 L818.6,1092.7 L819.3,1087.8 L819.9,1083.3 L820.6,1078.8 L821.4,1074.0 L822.2,1068.5 L823.3,1061.9 L826.3,1041.4 L830.2,1014.8 L834.7,984.6 L839.6,953.0 L844.7,922.4 L849.7,895.3 L853.8,875.7 L858.0,856.8 L862.4,838.7 L866.8,821.1 L871.4,804.1 L876.2,787.7 L880.3,774.2 L884.6,761.2 L888.9,748.5 L893.4,736.3 L898.0,724.5 L902.7,713.0 L906.9,703.4 L911.1,694.1 L915.5,685.1 L920.0,676.3 L924.5,667.8 L929.1,659.6 L933.4,652.4 L937.7,645.5 L942.0,638.7 L946.5,632.2 L951.0,625.8 L955.6,619.7 L959.9,614.2 L964.2,608.9 L968.6,603.7 L973.0,598.8 L977.5,594.0 L982.1,589.4 L986.3,585.3 L990.7,581.5 L995.1,577.7 L999.5,574.2 L1004.0,570.8 L1008.5,567.5 L1012.9,564.5 L1017.2,561.7 L1021.6,559.1 L1026.1,556.5 L1030.5,554.1 L1035.0,551.7 L1039.4,549.4 L1043.7,547.3 L1048.1,545.2 L1052.6,543.2 L1057.0,541.3 L1061.5,539.7 L1065.8,538.3 L1070.2,537.1 L1074.6,536.0 L1079.1,535.0 L1083.5,534.1 L1087.9,533.3 L1092.3,532.6 L1096.7,531.9 L1101.1,531.4 L1105.6,531.0 L1110.0,530.6 L1114.4,530.4 L1118.8,530.3 L1123.2,530.4 L1127.6,530.5 L1132.0,530.8 L1136.5,531.1 L1140.9,531.4 L1145.3,531.8 L1149.7,532.1 L1154.1,532.6 L1158.5,533.1 L1162.9,533.7 L1167.3,534.4 L1171.8,535.2 L1176.2,536.1 L1180.6,537.0 L1185.0,538.1 L1189.4,539.2 L1193.8,540.4 L1198.2,541.7 L1202.7,543.2 L1207.1,544.7 L1211.5,546.2 L1215.9,547.8 L1220.3,549.4 L1224.7,551.0 L1229.1,552.6 L1233.5,554.2 L1237.9,555.9 L1242.3,557.6 L1246.7,559.3 L1251.2,561.1 L1255.6,563.0 L1260.0,564.9 L1264.4,566.9 L1268.8,568.8 L1273.2,570.7 L1277.6,572.6 L1282.0,574.4 L1286.4,576.3 L1290.8,578.1 L1295.2,579.9 L1299.7,581.6 L1304.1,583.3 L1308.5,584.9 L1312.9,586.5 L1317.3,588.0 L1321.7,589.4 L1326.1,590.7 L1330.5,591.9 L1334.9,593.0 L1339.3,594.0 L1343.7,594.9 L1348.2,595.7 L1352.6,596.4 L1357.0,597.0 L1361.4,597.6 L1365.8,598.0 L1370.2,598.3 L1374.7,598.4 L1379.1,598.4 L1383.5,598.1 L1387.9,597.7 L1392.3,597.1 L1396.8,596.4 L1401.2,595.5 L1405.5,594.5 L1410.0,593.4 L1414.4,592.1 L1418.9,590.6 L1423.3,589.1 L1427.7,587.4 L1432.0,585.5 L1436.5,583.4 L1440.9,581.1 L1445.3,578.6 L1449.7,576.0 L1454.1,573.4 L1458.5,570.7 L1462.9,567.9 L1467.4,564.9 L1471.8,561.9 L1476.2,558.8 L1480.6,555.7 L1484.9,552.5 L1489.4,549.2 L1493.8,545.9 L1498.2,542.6 L1502.6,539.2 L1507.0,535.8 L1511.4,532.3 L1515.8,528.7 L1520.3,525.1 L1524.7,521.4 L1529.1,517.7 L1533.5,514.1 L1537.9,510.4 L1542.3,506.8 L1546.7,503.1 L1551.1,499.5 L1555.5,495.8 L1559.9,492.2 L1564.3,488.6 L1568.7,485.0 L1573.1,481.4 L1577.5,477.9 L1582.0,474.3 L1586.4,470.8 L1590.8,467.3 L1595.2,463.8 L1599.6,460.3 L1604.0,456.9 L1608.4,453.5 L1612.8,450.1 L1617.3,446.7 L1621.7,443.4 L1626.1,440.2 L1630.5,437.0 L1634.9,433.9 L1639.3,430.7 L1643.7,427.6 L1648.1,424.5 L1652.5,421.4 L1656.9,418.3 L1661.3,415.2 L1665.8,412.2 L1670.2,409.3 L1674.6,406.5 L1679.0,403.9 L1683.4,401.2 L1687.8,398.6 L1692.3,396.0 L1696.7,393.4 L1701.1,390.7 L1705.5,388.0 L1709.9,385.2 L1714.3,382.5 L1718.7,379.9 L1723.1,377.4 L1727.5,375.1 L1731.9,372.9 L1736.3,370.8 L1740.8,368.7 L1745.2,366.6 L1749.6,364.5 L1754.0,362.3 L1758.4,360.0 L1762.8,357.8 L1767.2,355.6 L1771.6,353.4 L1776.1,351.3 L1780.5,349.4 L1784.9,347.5 L1789.3,345.7 L1793.7,343.9 L1798.1,342.1 L1802.5,340.4 L1806.9,338.7 L1811.3,337.1 L1815.8,335.4 L1820.2,333.8 L1824.6,332.2 L1829.0,330.6" fill="none" stroke="#00ff00" stroke-width="7.4" stroke-linejoin="round" stroke-linecap="round"/>
<polygon points="241.0,107.4 251.5,87.8 230.5,87.8" fill="#00ff00"/>
<polygon points="267.5,121.4 278.0,101.8 257.0,101.8" fill="#00ff00"/>
<polygon points="293.9,142.5 304.4,122.9 283.4,122.9" fill="#00ff00"/>
<polygon points="320.4,174.7 330.9,155.1 309.9,155.1" fill="#00ff00"/>
<polygon points="346.9,222.6 357.4,203.0 336.4,203.0" fill="#00ff00"/>
<polygon points="373.3,292.6 383.8,273.0 362.8,273.0" fill="#00ff00"/>
<polygon points="399.8,374.6 410.3,355.0 389.3,355.0" fill="#00ff00"/>
<polygon points="426.3,440.4 436.8,420.8 415.8,420.8" fill="#00ff00"/>
<polygon points="452.7,464.8 463.2,445.2 442.2,445.2" fill="#00ff00"/>
<polygon points="479.2,457.8 489.7,438.2 468.7,438.2" fill="#00ff00"/>
<polygon points="505.7,447.4 516.2,427.8 495.2,427.8" fill="#00ff00"/>
<polygon points="532.1,444.6 542.6,425.0 521.6,425.0" fill="#00ff00"/>
<polygon points="558.6,452.4 569.1,432.8 548.1,432.8" fill="#00ff00"/>
<polygon points="585.1,469.5 595.6,449.9 574.6,449.9" fill="#00ff00"/>
<polygon points="611.5,497.5 622.0,477.9 601.0,477.9" fill="#00ff00"/>
<polygon points="638.0,536.9 648.5,517.3 627.5,517.3" fill="#00ff00"/>
<polygon points="664.5,587.5 675.0,567.9 654.0,567.9" fill="#00ff00"/>
<polygon points="690.9,655.8 701.4,636.2 680.4,636.2" fill="#00ff00"/>
<polygon points="717.4,743.4 727.9,723.8 706.9,723.8" fill="#00ff00"/>
<polygon points="743.9,858.6 754.4,839.0 733.4,839.0" fill="#00ff00"/>
<polygon points="770.3,1036.7 780.8,1017.1 759.8,1017.1" fill="#00ff00"/>
<polygon points="796.8,1233.7 807.3,1214.1 786.3,1214.1" fill="#00ff00"/>
<polygon points="823.3,1075.0 833.8,1055.4 812.8,1055.4" fill="#00ff00"/>
<polygon points="849.7,908.4 860.2,888.8 839.2,888.8" fill="#00ff00"/>
<polygon points="876.2,800.8 886.7,781.2 865.7,781.2" fill="#00ff00"/>
<polygon points="902.7,726.1 913.2,706.5 892.2,706.5" fill="#00ff00"/>
<polygon points="929.1,672.7 939.6,653.1 918.6,653.1" fill="#00ff00"/>
<polygon points="955.6,632.8 966.1,613.2 945.1,613.2" fill="#00ff00"/>
<polygon points="982.1,602.5 992.6,582.9 971.6,582.9" fill="#00ff00"/>
<polygon points="1008.5,580.6 1019.0,561.0 998.0,561.0" fill="#00ff00"/>
<polygon points="1035.0,564.8 1045.5,545.2 1024.5,545.2" fill="#00ff00"/>
<polygon points="1061.5,552.8 1072.0,533.2 1051.0,533.2" fill="#00ff00"/>
<polygon points="1087.9,546.4 1098.4,526.8 1077.4,526.8" fill="#00ff00"/>
<polygon points="1114.4,543.5 1124.9,523.9 1103.9,523.9" fill="#00ff00"/>
<polygon points="1140.9,544.5 1151.4,524.9 1130.4,524.9" fill="#00ff00"/>
<polygon points="1167.3,547.5 1177.8,527.9 1156.8,527.9" fill="#00ff00"/>
<polygon points="1193.8,553.5 1204.3,533.9 1183.3,533.9" fill="#00ff00"/>
<polygon points="1220.3,562.5 1230.8,542.9 1209.8,542.9" fill="#00ff00"/>
<polygon points="1246.7,572.4 1257.2,552.8 1236.2,552.8" fill="#00ff00"/>
<polygon points="1273.2,583.8 1283.7,564.2 1262.7,564.2" fill="#00ff00"/>
<polygon points="1299.7,594.7 1310.2,575.1 1289.2,575.1" fill="#00ff00"/>
<polygon points="1326.1,603.8 1336.6,584.2 1315.6,584.2" fill="#00ff00"/>
<polygon points="1352.6,609.5 1363.1,589.9 1342.1,589.9" fill="#00ff00"/>
<polygon points="1379.1,611.5 1389.6,591.9 1368.6,591.9" fill="#00ff00"/>
<polygon points="1405.5,607.6 1416.0,588.0 1395.0,588.0" fill="#00ff00"/>
<polygon points="1432.0,598.6 1442.5,579.0 1421.5,579.0" fill="#00ff00"/>
<polygon points="1458.5,583.8 1469.0,564.2 1448.0,564.2" fill="#00ff00"/>
<polygon points="1484.9,565.6 1495.4,546.0 1474.4,546.0" fill="#00ff00"/>
<polygon points="1511.4,545.4 1521.9,525.8 1500.9,525.8" fill="#00ff00"/>
<polygon points="1537.9,523.5 1548.4,503.9 1527.4,503.9" fill="#00ff00"/>
<polygon points="1564.3,501.7 1574.8,482.1 1553.8,482.1" fill="#00ff00"/>
<polygon points="1590.8,480.4 1601.3,460.8 1580.3,460.8" fill="#00ff00"/>
<polygon points="1617.3,459.8 1627.8,440.2 1606.8,440.2" fill="#00ff00"/>
<polygon points="1643.7,440.7 1654.2,421.1 1633.2,421.1" fill="#00ff00"/>
<polygon points="1670.2,422.4 1680.7,402.8 1659.7,402.8" fill="#00ff00"/>
<polygon points="1696.7,406.5 1707.2,386.9 1686.2,386.9" fill="#00ff00"/>
<polygon points="1723.1,390.5 1733.6,370.9 1712.6,370.9" fill="#00ff00"/>
<polygon points="1749.6,377.6 1760.1,358.0 1739.1,358.0" fill="#00ff00"/>
<polygon points="1776.1,364.4 1786.6,344.8 1765.6,344.8" fill="#00ff00"/>
<polygon points="1802.5,353.5 1813.0,333.9 1792.0,333.9" fill="#00ff00"/>
<polygon points="1829.0,343.7 1839.5,324.1 1818.5,324.1" fill="#00ff00"/>
</g>
<line x1="668.5" y1="149.5" x2="844.5" y2="149.5" stroke="#000000" stroke-width="7.3" stroke-linecap="round"/>
<rect x="748.0" y="141.0" width="17" height="17" fill="#000000"/>
<text x="865" y="176.9" font-size="80" textLength="587.7" lengthAdjust="spacing">Antenna 1 (Meas.)</text>
<line x1="668.5" y1="246.5" x2="844.5" y2="246.5" stroke="#0000ff" stroke-width="7.3" stroke-linecap="round"/>
<circle cx="756.5" cy="246.5" r="9" fill="#0000ff"/>
<text x="865" y="273.9" font-size="80" textLength="583.6" lengthAdjust="spacing">Antenna 1 (Simu.)</text>
<line x1="668.5" y1="343.4" x2="844.5" y2="343.4" stroke="#ff0000" stroke-width="7.3" stroke-linecap="round"/>
<polygon points="756.5,330.3 767.0,349.9 746.0,349.9" fill="#ff0000"/>
<text x="865" y="370.8" font-size="80" textLength="587.7" lengthAdjust="spacing">Antenna 2 (Meas.)</text>
<line x1="668.5" y1="441.1" x2="844.5" y2="441.1" stroke="#00ff00" stroke-width="7.3" stroke-linecap="round"/>
<polygon points="756.5,454.2 767.0,434.6 746.0,434.6" fill="#00ff00"/>
<text x="865" y="468.5" font-size="80" textLength="583.4" lengthAdjust="spacing">Antenna 2 (Simu.)</text>
</svg></body></html>
